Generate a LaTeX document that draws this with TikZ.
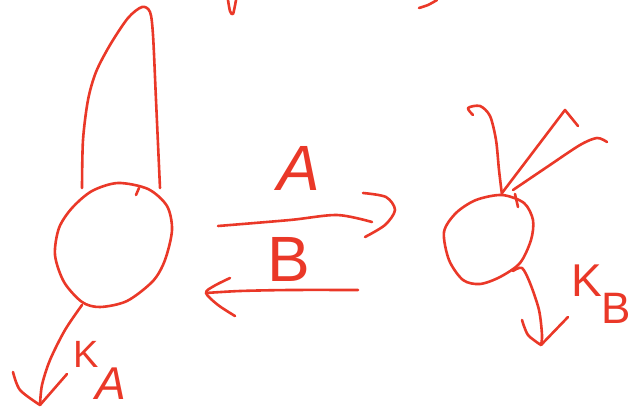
\documentclass[tikz,border=0pt]{standalone}
\usepackage{fontspec}
\setsansfont{Liberation Sans}
\usetikzlibrary{positioning}
\definecolor{pen}{RGB}{234,56,40}

\begin{document}
\begin{tikzpicture}[
  x=1pt, y=-1pt,
  font=\sffamily,
  ink/.style={draw=pen, line width=2.6pt, line cap=round, line join=round},
  letter/.style={text=pen, inner sep=0pt, font=\sffamily\fontsize{64}{64}\selectfont},
  rate/.style={text=pen, inner sep=0pt, font=\sffamily\fontsize{44}{44}\selectfont}
]
  \useasboundingbox (0,0) rectangle (635,415);

  % state A, its loop and its decay
  \draw[ink] plot[smooth] coordinates {(82,188) (83,140) (88,100) (96,72) (110,45) (128,18) (142,7) (150,12) (153,35) (156,100) (160,188)};
  \draw[ink] plot[smooth cycle] coordinates {(118,183) (148,189) (167,206) (172,230) (165,260) (153,281) (127,301) (100,307) (82,302) (64,282) (55,255) (59,228) (72,208) (92,191)};
  \draw[ink] (136,195) -- (139,188);
  \coordinate (outA) at (82,305);
  \coordinate (tipA) at (40,405);
  \draw[ink] plot[smooth] coordinates {(outA) (65,330) (50,360) (42,385) (tipA)};
  \draw[ink] plot[smooth] coordinates {(13,372) (20,390) (tipA)};
  \draw[ink] (tipA) -- (67,374);
  \node[rate, font=\sffamily\fontsize{38}{38}\selectfont] (kA) at (86,354) {K};
  \node[rate, font=\sffamily\itshape\fontsize{46}{46}\selectfont] (kAsub) at (111,384) {A};

  % transitions
  \coordinate (fromA) at (218,226);
  \coordinate (toB) at (372,222);
  \draw[ink] plot[smooth] coordinates {(fromA) (290,220) (337,215) (toB)};
  \draw[ink] plot[smooth] coordinates {(363,193) (386,197) (395,210) (385,225) (365,237)};
  \node[letter, font=\sffamily\itshape\fontsize{64}{64}\selectfont] (lblA) at (299,168) {A};

  \coordinate (fromB) at (358,290);
  \coordinate (toA) at (206,293);
  \draw[ink] plot[smooth] coordinates {(fromB) (290,290) (240,291) (toA)};
  \draw[ink] plot[smooth] coordinates {(230,278) (214,286) (toA) (218,305) (235,316)};
  \node[letter] (lblB) at (289,259) {B};

  % state B, its inputs and its decay
  \draw[ink] plot[smooth cycle] coordinates {(502,195) (524,203) (533,220) (531,240) (520,263) (500,277) (480,284) (463,280) (449,260) (444,232) (456,213) (476,200)};
  \draw[ink] (515,194) -- (518,207);
  \draw[ink] plot[smooth] coordinates {(473,115) (468,108) (480,106) (490,116) (496,140) (499,170) (502,195)};
  \draw[ink] (502,193) -- (565,110) -- (578,126);
  \draw[ink] plot[smooth] coordinates {(513,190) (547,167) (580,145) (597,138) (607,142)};
  \coordinate (outB) at (513,271);
  \coordinate (tipB) at (541,345);
  \draw[ink] plot[smooth] coordinates {(outB) (522,268) (530,283) (539,310) (542,335) (tipB)};
  \draw[ink] plot[smooth] coordinates {(522,320) (528,335) (tipB)};
  \draw[ink] (tipB) -- (568,317);
  \node[rate, font=\sffamily\fontsize{46}{46}\selectfont] (kB) at (587,281) {K};
  \node[rate] (kBsub) at (616,308) {B};

  % strokes cut off at the top edge
  \draw[ink] plot[smooth] coordinates {(228,0) (230,11) (233,14) (236,0)};
  \draw[ink] plot[smooth] coordinates {(419,8) (428,5) (437,0)};
\end{tikzpicture}
\end{document}
